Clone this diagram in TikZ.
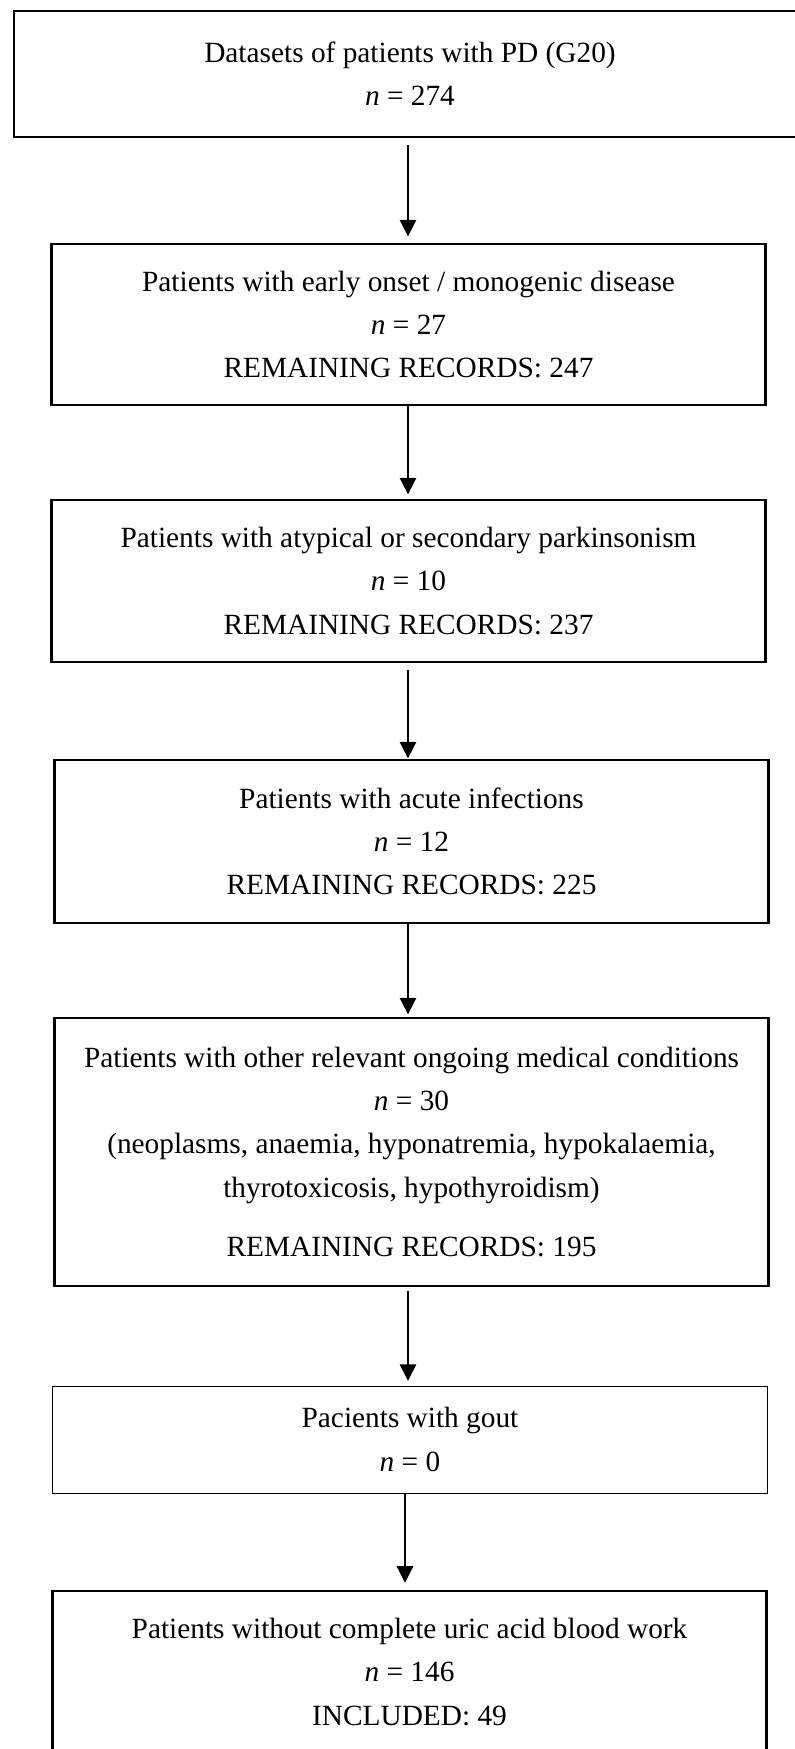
\documentclass[tikz,border=0pt]{standalone}
\usepackage{fontspec}
\setmainfont{Liberation Serif}
\usetikzlibrary{arrows.meta}
\tikzset{
  flow node/.style={draw,line width=2.2pt,minimum width=536pt,inner sep=0pt,
    align=center,font=\fontsize{22}{32.5}\selectfont},
  thin node/.style={flow node,line width=0.6pt},
  flow arrow/.style={-{Triangle[width=12pt,length=12.5pt]},line width=2.2pt},
}

\begin{document}
\begin{tikzpicture}[x=0.75pt,y=-0.75pt]
  \useasboundingbox (0,0) rectangle (794,1749);
  \coordinate (axis) at (408,0);
  \node[flow node,minimum width=594pt,minimum height=94.5pt] (ds) at (410,74)
    {Datasets of patients with PD (G20)\\ \textit{n}~=~274};
  \node[flow node,minimum height=120.75pt] (onset) at (408.5,324.5)
    {Patients with early onset / monogenic disease\\ \textit{n}~=~27\\
     REMAINING RECORDS: 247};
  \node[flow node,minimum height=121.5pt] (atyp) at (408.5,581)
    {Patients with atypical or secondary parkinsonism\\ \textit{n}~=~10\\
     REMAINING RECORDS: 237};
  \node[flow node,minimum height=122.25pt] (infect) at (411.5,841.5)
    {Patients with acute infections\\ \textit{n}~=~12\\
     REMAINING RECORDS: 225};
  \node[flow node,minimum height=201pt] (comorb) at (411.5,1152)
    {Patients with other relevant ongoing medical conditions\\ \textit{n}~=~30\\
     (neoplasms, anaemia, hyponatremia, hypokalaemia,\\
     thyrotoxicosis, hypothyroidism)\\[12pt]
     REMAINING RECORDS: 195};
  \node[thin node,minimum height=80.25pt] (gout) at (410,1439.5)
    {Pacients with gout\\ \textit{n}~=~0};
  \node[flow node,minimum height=121.5pt] (uric) at (409.5,1672)
    {Patients without complete uric acid blood work\\ \textit{n}~=~146\\
     INCLUDED: 49};
  \draw[flow arrow,shorten <=5pt,shorten >=4.5pt] (ds.south -| axis) -- (onset.north -| axis);
  \draw[flow arrow,shorten >=3pt] (onset.south -| axis) -- (atyp.north -| axis);
  \draw[flow arrow,shorten <=5pt] (atyp.south -| axis) -- (infect.north -| axis);
  \draw[flow arrow,shorten >=1.5pt] (infect.south -| axis) -- (comorb.north -| axis);
  \draw[flow arrow,shorten <=3pt,shorten >=3.5pt] (comorb.south -| axis) -- (gout.north -| axis);
  \draw[flow arrow,shorten >=5pt] ([xshift=-2.25pt]gout.south -| axis) -- ([xshift=-2.25pt]uric.north -| axis);
\end{tikzpicture}
\end{document}
